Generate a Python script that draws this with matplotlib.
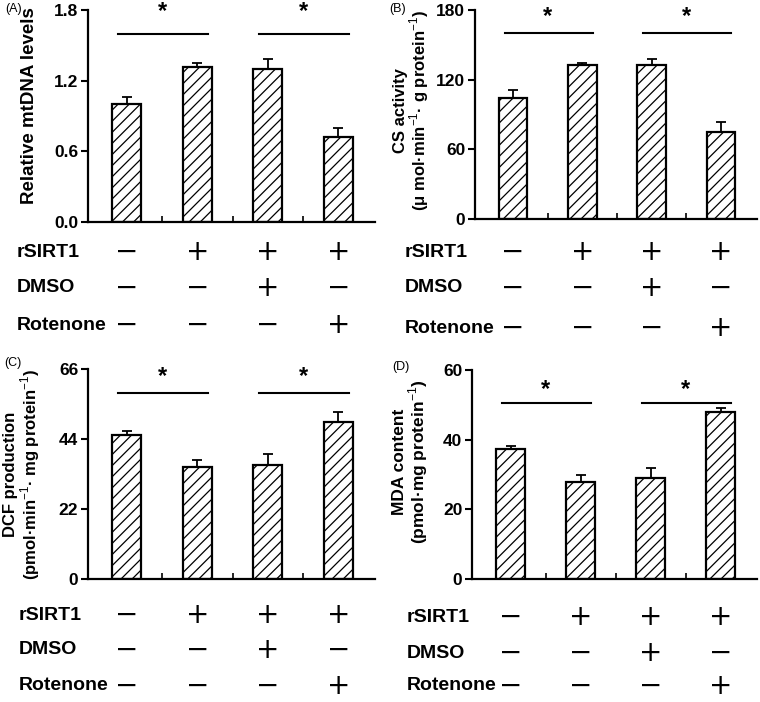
import numpy as np
import matplotlib
matplotlib.use('Agg')
import matplotlib.pyplot as plt
import matplotlib.transforms as mtransforms

plt.rcParams['font.family'] = ['Liberation Sans', 'DejaVu Sans']
plt.rcParams['mathtext.fontset'] = 'custom'
plt.rcParams['mathtext.rm'] = 'Liberation Sans'
plt.rcParams['mathtext.bf'] = 'Liberation Sans:bold'
plt.rcParams['hatch.linewidth'] = 0.9

# data
groups = [0, 1, 2, 3]
row_names = ['rSIRT1', 'DMSO', 'Rotenone']
signs = [['−', '+', '+', '+'],
         ['−', '−', '+', '−'],
         ['−', '−', '−', '+']]

mtdna = [1.00, 1.32, 1.30, 0.72]
mtdna_err = [0.06, 0.03, 0.08, 0.08]
cs = [104, 132.6, 133, 74.6]
cs_err = [7, 1.5, 5, 9]
dcf = [45.2, 35.1, 35.9, 49.5]
dcf_err = [1.4, 2.3, 3.5, 3.1]
mda = [37.2, 27.8, 29.0, 47.9]
mda_err = [0.9, 2.0, 2.8, 1.3]

yticks_a = [0.0, 0.6, 1.2, 1.8]
yticks_b = [0, 60, 120, 180]
yticks_c = [0, 22, 44, 66]
yticks_d = [0, 20, 40, 60]

sig_pairs = [(0, 1), (2, 3)]

panels = [
    dict(tag='(A)', tag_xy=(5, 3), vals=mtdna, err=mtdna_err, ticks=yticks_a, fmt='%.1f',
         ylabel='Relative mtDNA levels', lab_fs=13.5, sig_y=1.60, star_top=1.885,
         rect=[88, 10, 375, 222], lab_xy=(-0.175, 0.55),
         rows=[30, 66, 103], row_x=17),
    dict(tag='(B)', tag_xy=(389, 3), vals=cs, err=cs_err, ticks=yticks_b, fmt='%d',
         ylabel='CS activity\n(μ mol·min$^{-1}$· g protein$^{-1}$)', lab_fs=12, sig_y=160, star_top=184,
         rect=[475, 10, 757, 219], lab_xy=(-0.155, 0.52),
         rows=[33, 69, 109], row_x=405),
    dict(tag='(C)', tag_xy=(4, 357), vals=dcf, err=dcf_err, ticks=yticks_c, fmt='%d',
         ylabel='DCF production\n(pmol·min$^{-1}$· mg protein$^{-1}$)', lab_fs=12, sig_y=58.4, star_top=67.1,
         rect=[88, 369, 375, 579], lab_xy=(-0.16, 0.50),
         rows=[36, 71, 107], row_x=19),
    dict(tag='(D)', tag_xy=(392, 361), vals=mda, err=mda_err, ticks=yticks_d, fmt='%d',
         ylabel='MDA content\n(pmol·mg protein$^{-1}$)', lab_fs=12.5, sig_y=50.6, star_top=57.6,
         rect=[472, 370, 757, 579], lab_xy=(-0.147, 0.56),
         rows=[38, 74, 107], row_x=407),
]

W, H = 760, 702
fig = plt.figure(figsize=(W / 100, H / 100), dpi=100)

for p in panels:
    x0, y0, x1, y1 = p['rect']
    ax = fig.add_axes([x0 / W, 1 - y1 / H, (x1 - x0) / W, (y1 - y0) / H])
    ax.bar(groups, p['vals'], width=0.41, color='white', edgecolor='black',
           linewidth=1.6, hatch='///', zorder=2)
    ax.errorbar(groups, p['vals'], yerr=[[0] * 4, p['err']], fmt='none',
                ecolor='black', elinewidth=1.3, capsize=3.3, capthick=1.3, zorder=1)
    ax.set_xlim(-0.55, 3.52)
    ax.set_ylim(0, p['ticks'][-1])
    ax.set_yticks(p['ticks'])
    ax.set_yticklabels([p['fmt'] % t for t in p['ticks']], fontsize=12.5, fontweight='bold')
    ax.set_xticks(np.arange(0, 3.01, 0.5))
    ax.set_xticklabels([])
    ax.tick_params(axis='x', direction='in', length=4, width=1.2)
    ax.tick_params(axis='y', direction='out', length=5, width=1.5, pad=2)
    for s in ['top', 'right']:
        ax.spines[s].set_visible(False)
    for s in ['left', 'bottom']:
        ax.spines[s].set_linewidth(1.6)
    ax.set_ylabel(p['ylabel'], fontsize=p['lab_fs'], fontweight='bold', linespacing=1.0)
    ax.yaxis.set_label_coords(*p['lab_xy'])

    # significance lines and stars
    for a, b in sig_pairs:
        ax.plot([a - 0.12, b + 0.15], [p['sig_y'], p['sig_y']], color='black',
                lw=1.5, clip_on=False)
        ax.text((a + b) / 2, p['star_top'], '*', ha='center', va='top',
                fontsize=17, fontweight='bold', clip_on=False)

    # panel tag
    tx, ty = p['tag_xy']
    fig.text(tx / W, 1 - ty / H, p['tag'], fontsize=9, va='top', ha='left')

    # treatment rows
    trans = mtransforms.blended_transform_factory(ax.transData, fig.transFigure)
    for r, name in enumerate(row_names):
        yfig = 1 - (y1 + p['rows'][r]) / H
        fig.text(p['row_x'] / W, yfig, name, fontsize=14, fontweight='bold',
                 ha='left', va='center')
        for g in groups:
            ax.text(g, yfig, signs[r][g], transform=trans, ha='center', va='center',
                    fontsize=20, family='DejaVu Sans')

fig.savefig('out.png', dpi=100)
